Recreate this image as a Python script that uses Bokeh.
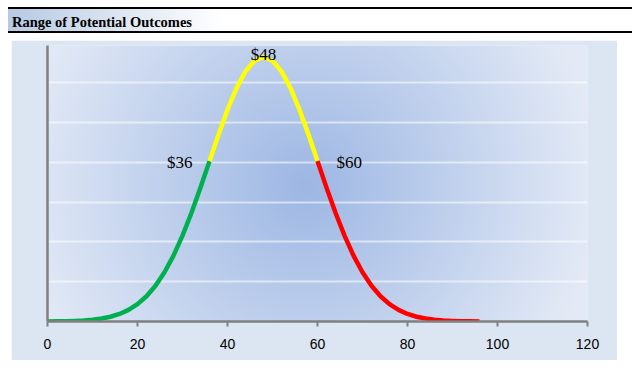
import numpy as np
from bokeh.plotting import figure
from bokeh.layouts import column
from bokeh.models import Range1d, FixedTicker, Div
from bokeh.core.properties import value
from bokeh.embed import file_html
from bokeh.resources import INLINE

# ---------------- data ----------------
title_text = "Range of Potential Outcomes"
x_vals = [0, 2, 4, 6, 8, 10, 12, 14, 16, 18, 20, 22, 24, 26, 28, 30, 32, 34,
          36, 38, 40, 42, 44, 46, 48, 50, 52, 54, 56, 58, 60, 62, 64, 66, 68,
          70, 72, 74, 76, 78, 80, 82, 84, 86, 88, 90, 92, 94, 96]
y_vals = [0.000011, 0.000021, 0.000040, 0.000073, 0.000128, 0.000221, 0.000369,
          0.000600, 0.000950, 0.001461, 0.002185, 0.003180, 0.004499, 0.006193,
          0.008290, 0.010793, 0.013668, 0.016833, 0.020164, 0.023493, 0.026621,
          0.029339, 0.031449, 0.032787, 0.033245, 0.032787, 0.031449, 0.029339,
          0.026621, 0.023493, 0.020164, 0.016833, 0.013668, 0.010793, 0.008290,
          0.006193, 0.004499, 0.003180, 0.002185, 0.001461, 0.000950, 0.000600,
          0.000369, 0.000221, 0.000128, 0.000073, 0.000040, 0.000021, 0.000011]
low_x, mid_x, high_x = 36, 48, 60
label_texts = ["$36", "$48", "$60"]
x_ticks = [0, 20, 40, 60, 80, 100, 120]
y_grid = [0.005, 0.010, 0.015, 0.020, 0.025, 0.030]
x_min, x_max = 0, 120
y_min, y_max = 0, 0.0347

# ---------------- title bar ----------------
title_html = (
    '<div style="width:622px;height:22px;border-top:2px solid #000;'
    'border-bottom:2px solid #000;'
    'background:linear-gradient(to right,#b6cae3 0px,#ffffff 215px);'
    'font-family:\'Liberation Serif\',serif;font-weight:bold;font-size:14.5px;'
    'line-height:22px;color:#000;padding:0 0 0 4px;box-sizing:content-box;'
    'white-space:nowrap;overflow:hidden;">'
    '<span style="position:relative;top:2px;">' + title_text + '</span></div>'
)
title_div = Div(text=title_html, width=626, height=26, margin=(7, 0, 0, 8))

# ---------------- main chart ----------------
W, H = 606, 320
BL, BR, BT, BB = 36, 30, 5, 39
FW, FH = W - BL - BR, H - BT - BB

p = figure(width=W, height=H,
           x_range=Range1d(x_min, x_max), y_range=Range1d(y_min, y_max),
           output_backend="svg", toolbar_location=None,
           min_border_left=BL, min_border_right=BR,
           min_border_top=BT, min_border_bottom=BB,
           margin=(7, 0, 0, 11))
p.border_fill_color = "#dce6f2"
p.background_fill_color = "#dfe7f4"
p.outline_line_color = None

# circular background gradient of the plot area (decoration)
yy, xx = np.mgrid[0:FH, 0:FW]
cx, cy, rad = 258.0, 140.0, 290.0
d = np.sqrt((xx - cx) ** 2 + (yy - cy) ** 2) / rad
t = np.clip(d, 0, 1)
cin = np.array([157, 183, 228], dtype=float)
cout = np.array([227, 234, 246], dtype=float)
rgb = cin[None, None, :] + (cout - cin)[None, None, :] * t[:, :, None]
rgb = np.flipud(rgb)
img = np.empty((FH, FW), dtype=np.uint32)
view = img.view(dtype=np.uint8).reshape((FH, FW, 4))
view[:, :, 0] = rgb[:, :, 0].astype(np.uint8)
view[:, :, 1] = rgb[:, :, 1].astype(np.uint8)
view[:, :, 2] = rgb[:, :, 2].astype(np.uint8)
view[:, :, 3] = 255
p.image_rgba(image=[img], x=x_min, y=y_min, dw=x_max - x_min, dh=y_max - y_min, level="image")

# grid
p.xgrid.visible = False
p.ygrid.ticker = FixedTicker(ticks=y_grid)
p.ygrid.grid_line_color = "white"
p.ygrid.grid_line_alpha = 0.55
p.ygrid.grid_line_width = 2

# axes
p.xaxis.ticker = FixedTicker(ticks=x_ticks)
p.xaxis.axis_line_color = "#808080"
p.xaxis.axis_line_width = 2.5
p.xaxis.major_tick_line_color = "#808080"
p.xaxis.major_tick_line_width = 2
p.xaxis.major_tick_out = 5
p.xaxis.major_tick_in = 0
p.xaxis.minor_tick_line_color = None
p.xaxis.major_label_standoff = 12
p.xaxis.major_label_text_font = "Liberation Sans"
p.xaxis.major_label_text_font_size = "14px"
p.xaxis.major_label_text_color = "black"

p.yaxis.ticker = FixedTicker(ticks=[])
p.yaxis.axis_line_color = "#808080"
p.yaxis.axis_line_width = 2.5
p.yaxis.major_tick_line_color = None
p.yaxis.minor_tick_line_color = None

# curve split into three segments
i_lo = x_vals.index(low_x)
i_mid = x_vals.index(mid_x)
i_hi = x_vals.index(high_x)
p.line(x_vals[:i_lo + 1], y_vals[:i_lo + 1], line_color="#00b050", line_width=4.5,
       line_join="round", line_cap="butt")
p.line(x_vals[i_lo:i_hi + 1], y_vals[i_lo:i_hi + 1], line_color="#ffff00", line_width=4.5,
       line_join="round", line_cap="butt")
p.line(x_vals[i_hi:], y_vals[i_hi:], line_color="#ff0000", line_width=4.5,
       line_join="round", line_cap="butt")

# labels
lab_font = value("Liberation Serif")
p.text(x=[low_x], y=[y_vals[i_lo]], text=[label_texts[0]], text_font=lab_font,
       text_font_size="17px", text_color="black", text_align="right",
       text_baseline="middle", x_offset=-17, y_offset=1)
p.text(x=[mid_x], y=[y_vals[i_mid]], text=[label_texts[1]], text_font=lab_font,
       text_font_size="17px", text_color="black", text_align="center",
       text_baseline="middle", y_offset=-3)
p.text(x=[high_x], y=[y_vals[i_hi]], text=[label_texts[2]], text_font=lab_font,
       text_font_size="17px", text_color="black", text_align="left",
       text_baseline="middle", x_offset=19, y_offset=1)

layout = column(title_div, p, spacing=0)
open("out.html", "w").write(file_html(layout, INLINE))
